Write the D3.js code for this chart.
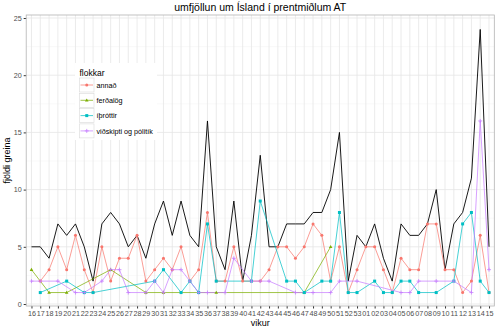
<!DOCTYPE html>
<html><head><meta charset="utf-8">
<script src="https://cdn.jsdelivr.net/npm/d3@7"></script>
<style>body{margin:0;background:#fff;}svg{display:block;font-family:"Liberation Sans",Arial,sans-serif;}</style>
</head><body><div id="chart"></div>
<script>
const weeks = ["16","17","18","19","20","21","22","23","24","25","26","27","28","29","30","31","32","33","34","35","36","37","38","39","40","41","42","43","44","45","46","47","48","49","50","51","52","53","01","02","03","04","05","06","07","08","09","10","11","12","13","14","15"];
const N = null;
const total = [5,5,4,7,6,7,5,2,7,8, 7,5,6,4,7,9,6,9,6,5, 16,5,3,9,2,6,13,5,5,7, 7,7,8,8,10,15,2,6,5,7, 4,2,7,6,6,7,10,3,7,8, 11,24,5];
const annad = [N,2,3,5,3,6,3,1,5,2, 4,4,6,2,3,4,3,5,2,3, 8,2,2,5,2,2,2,3,5,5, 4,5,7,6,2,5,1,3,5,5, 3,1,4,3,3,7,7,3,3,1, 2,6,1];
const ferdalog = [3,N,1,N,1,N,N,N,N,3, N,N,N,1,N,1,N,N,N,N, N,1,N,N,N,N,N,N,N,N, N,1,N,N,5,N,N,N,N,N, N,N,N,N,N,N,N,N,N,N, N,N,N];
const ithrottir = [N,1,N,N,2,N,1,1,N,N, N,N,N,N,2,3,N,1,2,1, 7,2,N,N,N,2,9,N,N,2, 2,1,N,2,2,8,1,1,N,2, 1,1,2,2,1,N,1,N,2,7, 8,2,1];
const vidskipti = [2,2,N,2,N,1,1,N,2,3, 3,1,N,1,2,1,3,3,2,1, 1,N,1,4,N,2,2,2,N,N, 1,N,1,N,1,2,N,2,N,N, N,N,1,1,2,N,2,N,2,N, 1,16,3];
const seriesNames = ["annað","ferðalög","íþróttir","viðskipti og pólitík"];
const seriesColors = ["#F8766D","#7CAE00","#00BFC4","#C77CFF"];
const yTicks = [0,5,10,15,20,25];

const W=500,H=330;
const svg=d3.select("#chart").append("svg").attr("width",W).attr("height",H);
const L=26.2,R=494.3,T=15,B=306;
const x=d3.scalePoint().domain(weeks).range([L,R]).padding(0.6);
const y=d3.scaleLinear().domain([0,25]).range([304,18]);

// panel
svg.append("rect").attr("x",L).attr("y",T).attr("width",R-L).attr("height",B-T).attr("fill","#fff");
const g=svg.append("g");
// minor grid
[2.5,7.5,12.5,17.5,22.5].forEach(v=>g.append("line").attr("x1",L).attr("x2",R).attr("y1",y(v)).attr("y2",y(v)).attr("stroke","#F2F2F2").attr("stroke-width",0.5));
yTicks.forEach(v=>g.append("line").attr("x1",L).attr("x2",R).attr("y1",y(v)).attr("y2",y(v)).attr("stroke","#E6E6E6").attr("stroke-width",0.8));
weeks.forEach(w=>g.append("line").attr("x1",x(w)).attr("x2",x(w)).attr("y1",T).attr("y2",B).attr("stroke","#E6E6E6").attr("stroke-width",0.8));

// axes
const xAxis=d3.axisBottom(x).tickSize(2.5).tickPadding(2);
const xa=svg.append("g").attr("transform",`translate(0,${B})`).call(xAxis);
xa.select(".domain").remove();
xa.selectAll("line").attr("stroke","#333");
xa.selectAll("text").attr("font-size",7.2).attr("fill","#4D4D4D").attr("font-family","Liberation Sans, Arial, sans-serif");
const yAxis=d3.axisLeft(y).tickValues(yTicks).tickSize(2.5).tickPadding(2);
const ya=svg.append("g").attr("transform",`translate(${L},0)`).call(yAxis);
ya.select(".domain").remove();
ya.selectAll("line").attr("stroke","#333");
ya.selectAll("text").attr("font-size",7.2).attr("fill","#4D4D4D").attr("font-family","Liberation Sans, Arial, sans-serif");

function pts(arr){return weeks.map((w,i)=>({w,v:arr[i]})).filter(d=>d.v!==null);}
const line=d3.line().x(d=>x(d.w)).y(d=>y(d.v));

// total line
g.append("path").attr("d",line(pts(total))).attr("fill","none").attr("stroke","#000").attr("stroke-width",0.9);

const all=[annad,ferdalog,ithrottir,vidskipti];
function shape(sel,k,cx,cy,col){
  if(k===0) sel.append("circle").attr("cx",cx).attr("cy",cy).attr("r",1.5).attr("fill",col);
  else if(k===1) sel.append("path").attr("d",`M${cx},${cy-1.9}L${cx+1.8},${cy+1.3}L${cx-1.8},${cy+1.3}Z`).attr("fill",col);
  else if(k===2) sel.append("rect").attr("x",cx-1.5).attr("y",cy-1.5).attr("width",3).attr("height",3).attr("fill",col);
  else sel.append("path").attr("d",`M${cx-2},${cy}H${cx+2}M${cx},${cy-2}V${cy+2}`).attr("stroke",col).attr("stroke-width",0.8);
}
all.forEach((arr,k)=>{
  const p=pts(arr);
  g.append("path").attr("d",line(p)).attr("fill","none").attr("stroke",seriesColors[k]).attr("stroke-width",0.9).attr("opacity",0.8);
});
all.forEach((arr,k)=>{
  pts(arr).forEach(d=>shape(g,k,x(d.w),y(d.v),seriesColors[k]));
});

// panel border
svg.append("rect").attr("x",L).attr("y",T).attr("width",R-L).attr("height",B-T).attr("fill","none").attr("stroke","#B3B3B3").attr("stroke-width",0.8);

// legend
const lg=svg.append("g");
lg.append("rect").attr("x",75).attr("y",63).attr("width",82).attr("height",77).attr("fill","#fff");
lg.append("text").attr("x",79.5).attr("y",75.5).attr("font-size",8.5).attr("fill","#000").text("flokkar");
seriesNames.forEach((n,k)=>{
  const cy=85+k*15.3;
  lg.append("rect").attr("x",79.5).attr("y",cy-7).attr("width",14.5).attr("height",14).attr("fill","#fff").attr("stroke","#D9D9D9").attr("stroke-width",0.6);
  lg.append("line").attr("x1",80.5).attr("x2",93).attr("y1",cy).attr("y2",cy).attr("stroke",seriesColors[k]).attr("stroke-width",0.9).attr("opacity",0.8);
  shape(lg,k,86.75,cy,seriesColors[k]);
  lg.append("text").attr("x",96.5).attr("y",cy+2.6).attr("font-size",7.2).attr("fill","#000").text(n);
});

// titles
svg.append("text").attr("x",(L+R)/2).attr("y",11).attr("text-anchor","middle").attr("font-size",10.5).attr("fill","#000").text("umfjöllun um Ísland í prentmiðlum AT");
svg.append("text").attr("x",(L+R)/2).attr("y",326).attr("text-anchor","middle").attr("font-size",9).attr("fill","#000").text("vikur");
svg.append("text").attr("transform",`translate(10,${(T+B)/2}) rotate(-90)`).attr("text-anchor","middle").attr("font-size",9).attr("fill","#000").text("fjöldi greina");
</script></body></html>
